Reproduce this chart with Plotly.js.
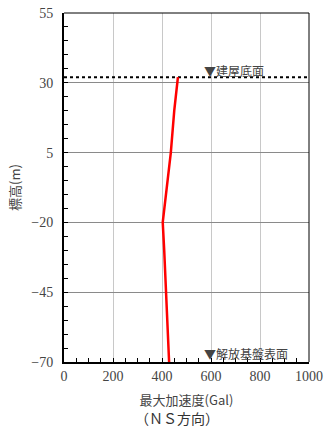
<!DOCTYPE html>
<html>
<head>
<meta charset="utf-8">
<script src="https://cdn.plot.ly/plotly-3.0.1.min.js"></script>
<style>
html,body{margin:0;padding:0;background:#fff;}
#chart{width:327px;height:430px;}
</style>
</head>
<body>
<div id="chart"></div>
<script>
// Data
const elevation = [32, 20, 5, -20, -30, -45, -70];      // 標高 (m)
const maxAccel  = [465, 450, 436, 403, 409, 416, 429];  // 最大加速度 (Gal)
const buildingBaseLevel = 32;
const bedrockLevel = -70;
const xTicks = [0, 200, 400, 600, 800, 1000];
const yTicks = [55, 30, 5, -20, -45, -70];
const labelBuilding = "▼建屋底面";
const labelBedrock = "▼解放基盤表面";
const labelMarkerX = 562;
const xTitle = "最大加速度(Gal)";
const yTitle = "標高(m)";
const subTitle = "（ＮＳ方向）";

const serif = "Liberation Serif, DejaVu Serif, serif";
const cjk = "Noto Sans CJK JP, sans-serif";

const traces = [
  {
    x: [0, 1000],
    y: [buildingBaseLevel, buildingBaseLevel],
    mode: "lines",
    line: {color: "#000", width: 2, dash: "dot"},
    hoverinfo: "skip",
    showlegend: false
  },
  {
    x: maxAccel,
    y: elevation,
    mode: "lines",
    line: {color: "#ff0000", width: 2.5},
    showlegend: false
  }
];

const layout = {
  width: 327,
  height: 430,
  margin: {l: 64, r: 18, t: 13, b: 68},
  paper_bgcolor: "#fff",
  plot_bgcolor: "#fff",
  showlegend: false,
  xaxis: {
    range: [0, 1000],
    tickvals: xTicks,
    ticktext: xTicks.map(String),
    showgrid: true,
    gridcolor: "#c8c8c8",
    gridwidth: 1,
    zeroline: false,
    showline: true,
    linecolor: "#000",
    linewidth: 2,
    ticks: "inside",
    ticklen: 4,
    tickcolor: "#000",
    minor: {dtick: 50, ticks: "inside", ticklen: 4, tickcolor: "#000", showgrid: false},
    tickfont: {family: serif, size: 14, color: "#444"},
    title: {text: xTitle, font: {family: cjk, size: 13, color: "#444"}, standoff: 13},
    fixedrange: true
  },
  yaxis: {
    range: [-70, 55],
    tickvals: yTicks,
    ticktext: yTicks.map(v => v < 0 ? "\u2212" + Math.abs(v) : String(v)),
    showgrid: true,
    gridcolor: "#8a8a8a",
    gridwidth: 1,
    zeroline: false,
    showline: true,
    linecolor: "#000",
    linewidth: 2,
    ticks: "inside",
    ticklen: 4,
    tickcolor: "#000",
    minor: {dtick: 5, ticks: "inside", ticklen: 4, tickcolor: "#000", showgrid: false},
    tickfont: {family: serif, size: 14, color: "#444"},
    ticklabelstandoff: 6,
    title: {text: yTitle, font: {family: cjk, size: 13, color: "#444"}, standoff: 8},
    fixedrange: true
  },
  shapes: [
    {type: "line", xref: "paper", yref: "paper", x0: 0, x1: 1, y0: 1, y1: 1, line: {color: "#000", width: 1}},
    {type: "line", xref: "paper", yref: "paper", x0: 1, x1: 1, y0: 0, y1: 1, line: {color: "#000", width: 1}}
  ],
  annotations: [
    {
      x: labelMarkerX, y: buildingBaseLevel, xref: "x", yref: "y",
      text: labelBuilding, showarrow: false, xanchor: "left", yanchor: "bottom",
      yshift: -4,
      font: {family: cjk, size: 12, color: "#444"}
    },
    {
      x: labelMarkerX, y: bedrockLevel, xref: "x", yref: "y",
      text: labelBedrock, showarrow: false, xanchor: "left", yanchor: "bottom",
      yshift: -2,
      font: {family: cjk, size: 12, color: "#444"}
    },
    {
      x: 0.46, y: 0, xref: "paper", yref: "paper",
      text: subTitle, showarrow: false, xanchor: "center", yanchor: "bottom",
      yshift: -67, borderpad: 0,
      font: {family: cjk, size: 14, color: "#333"}
    }
  ]
};

Plotly.newPlot("chart", traces, layout, {displayModeBar: false, staticPlot: true});
</script>
</body>
</html>
